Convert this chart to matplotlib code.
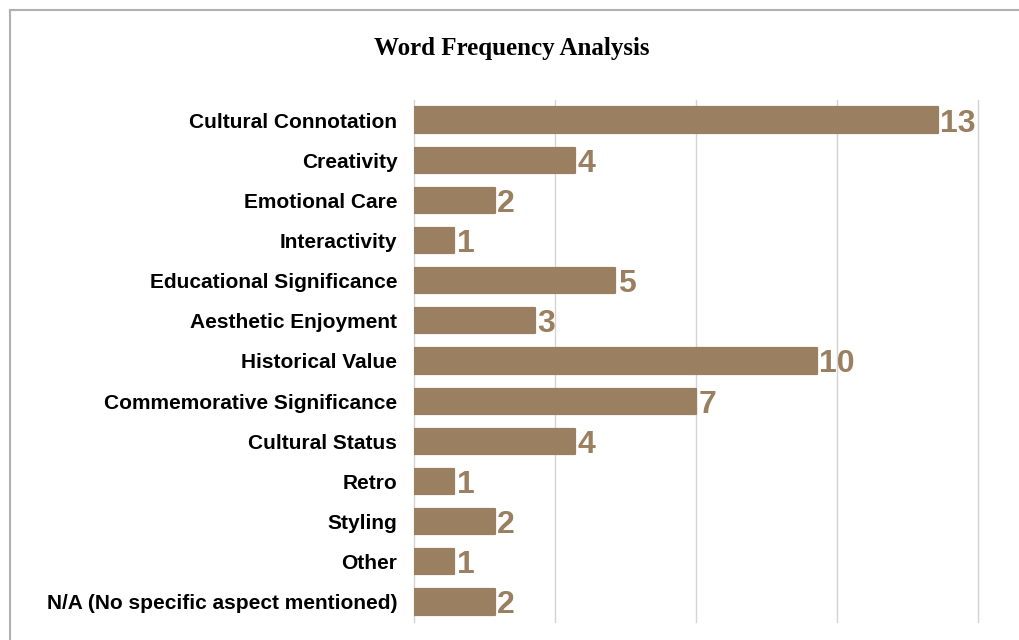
import numpy as np
import matplotlib; matplotlib.use("Agg")
import matplotlib.pyplot as plt
from matplotlib.lines import Line2D

categories = ["Cultural Connotation", "Creativity", "Emotional Care", "Interactivity",
              "Educational Significance", "Aesthetic Enjoyment", "Historical Value",
              "Commemorative Significance", "Cultural Status", "Retro", "Styling",
              "Other", "N/A (No specific aspect mentioned)"]
counts = [13, 4, 2, 1, 5, 3, 10, 7, 4, 1, 2, 1, 2]
grid_ticks = [0, 3.5, 7, 10.5, 14]

BAR = "#9a7f60"

fig = plt.figure(figsize=(10.2, 6.4), dpi=100)
ax = fig.add_axes([414/1020, 1-622/640, (978-414)/1020, (622-100)/640])

y = np.arange(len(categories))
ax.barh(y, counts, height=0.63, color=BAR, edgecolor=BAR, linewidth=1.6,
        joinstyle="round", zorder=3)
for yi, v in zip(y, counts):
    ax.text(v + 0.06, yi, str(v), va="center_baseline", ha="left", color=BAR,
            fontsize=23, fontweight="bold", family="Liberation Sans", zorder=4)

ax.set_xlim(0, 14); ax.set_ylim(len(categories) - 0.5, -0.5)
ax.set_xticks(grid_ticks); ax.set_xticklabels([])
ax.set_yticks(y)
ax.set_yticklabels(categories, fontsize=15, fontweight="bold", family="Liberation Sans")
ax.tick_params(length=0, pad=12)
ax.grid(axis="x", color="#d4d4d4", lw=1, zorder=0)
for gl in ax.get_xgridlines(): gl.set_clip_on(False)
for s in ax.spines.values(): s.set_visible(False)

fig.text(512/1020, 1-48/640, "Word Frequency Analysis", ha="center", va="center",
         fontsize=18, fontweight="bold", family="Liberation Serif")

# thin frame along the top and left edges
fig.add_artist(Line2D([10/1020, 1], [1-10/640, 1-10/640], color="#b0b0b0", lw=1.5))
fig.add_artist(Line2D([10/1020, 10/1020], [0, 1-10/640], color="#b0b0b0", lw=1.5))

fig.savefig("out.png", dpi=100)
